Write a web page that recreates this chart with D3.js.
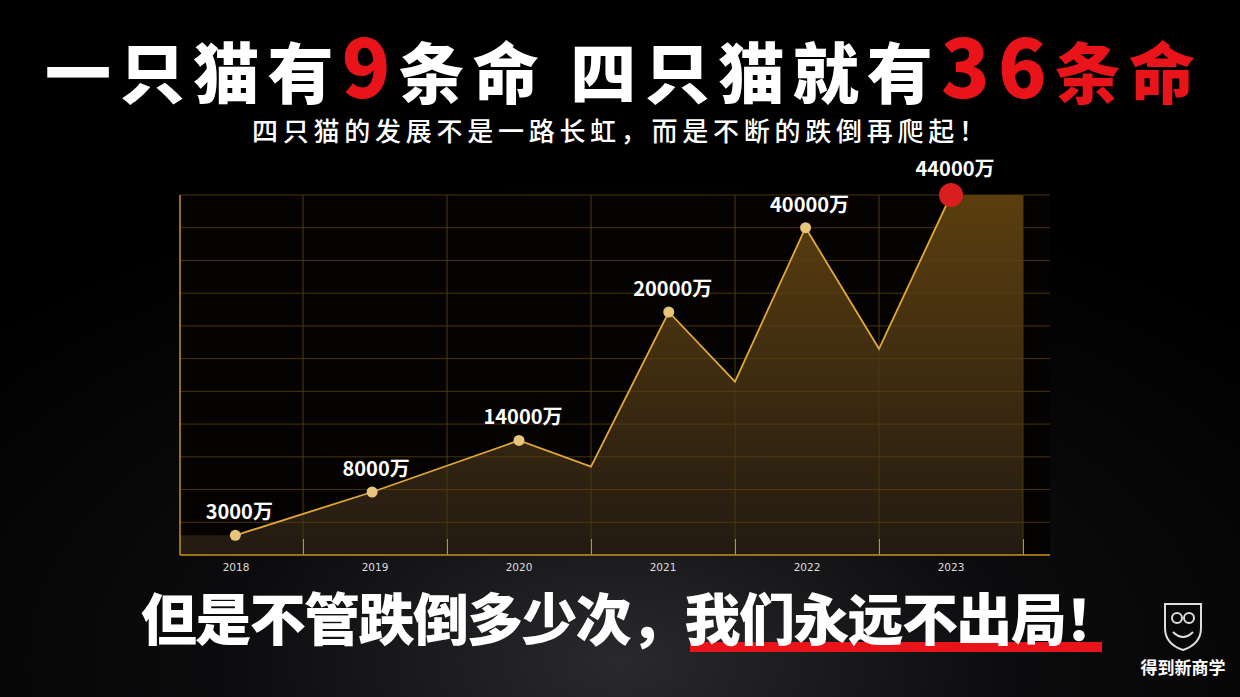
<!DOCTYPE html>
<html><head><meta charset="utf-8">
<script src="https://cdn.jsdelivr.net/npm/d3@7"></script>
<style>body{margin:0;background:#000;overflow:hidden}svg{display:block}</style>
</head><body>
<svg id="c" width="1240" height="697"></svg>
<script>
const years = ["2018","2019","2020","2021","2022","2023"];
const xPos = [0.53, 1.48, 2.5, 3.0, 3.54, 4.0, 4.49, 5.0, 5.5];
const yVal = [2400, 7700, 14000, 10800, 29700, 21200, 40000, 25200, 44000];
const labels = ["3000万","8000万","14000万",null,"20000万",null,"40000万",null,"44000万"];
const yTicks = d3.range(0, 44001, 4000);

const svg = d3.select("#c");
const defs = svg.append("defs");
const bg = defs.append("radialGradient").attr("id","bg").attr("cx","50%").attr("cy","95%").attr("r","70%");
bg.append("stop").attr("offset","0").attr("stop-color","#2a2a2e");
bg.append("stop").attr("offset","0.45").attr("stop-color","#0c0c0e");
bg.append("stop").attr("offset","1").attr("stop-color","#000");
svg.append("rect").attr("width",1240).attr("height",697).attr("fill","url(#bg)");

const af = defs.append("linearGradient").attr("id","af").attr("x1",0).attr("y1",0).attr("x2",0).attr("y2",1);
af.append("stop").attr("offset","0").attr("stop-color","#5a3e0e");
af.append("stop").attr("offset","1").attr("stop-color","#221a12");

const x = d3.scaleLinear().domain([0,6]).range([159,1023]);
const y = d3.scaleLinear().domain([0,44000]).range([555,195]);
const L = 180, R = 1050;

svg.append("rect").attr("x",L).attr("y",195).attr("width",R-L).attr("height",360).attr("fill","#050202");

const areaPts = xPos.map((u,i)=>[u,yVal[i]]).concat([[6,44000]]);
svg.append("path").datum([[0,2400]].concat(areaPts))
  .attr("d", d3.area().x(d=>Math.max(L,x(d[0]))).y0(y(0)).y1(d=>y(d[1])))
  .attr("fill","url(#af)");

const g = svg.append("g");
g.selectAll(".h").data(yTicks.slice(1)).join("line")
  .attr("x1",L).attr("x2",R).attr("y1",d=>y(d)).attr("y2",d=>y(d))
  .attr("stroke","#5a4210").attr("stroke-width",1).attr("opacity",0.8);
g.selectAll(".v").data(d3.range(1,7)).join("line")
  .attr("x1",d=>x(d)).attr("x2",d=>x(d)).attr("y1",195).attr("y2",555)
  .attr("stroke","#4a3810").attr("stroke-width",1);

const xa = svg.append("g").attr("transform","translate(0,555)")
  .call(d3.axisBottom(x).tickValues(d3.range(1,7)).tickSize(-16).tickFormat(""));
xa.select(".domain").remove();
xa.selectAll("line").attr("stroke","#c8901e");
svg.append("line").attr("x1",L).attr("x2",R).attr("y1",555).attr("y2",555).attr("stroke","#c8901e").attr("stroke-width",1.5);
svg.append("line").attr("x1",L).attr("x2",L).attr("y1",195).attr("y2",555).attr("stroke","#c8901e").attr("stroke-width",1.5);
svg.selectAll(".yl").data(years).join("text")
  .attr("x",(d,i)=>x(i+0.5)+(i===0?5:0)).attr("y",571).attr("text-anchor","middle")
  .attr("fill","#ddd").attr("font-family","DejaVu Sans").attr("font-size",10.5).text(d=>d);

svg.append("path").datum(xPos.map((u,i)=>[u,yVal[i]]))
  .attr("d", d3.line().x(d=>x(d[0])).y(d=>y(d[1])))
  .attr("fill","none").attr("stroke","#e0a838").attr("stroke-width",1.8);

const pts = xPos.map((u,i)=>({u:u,v:yVal[i],l:labels[i],last:i===xPos.length-1})).filter(d=>d.l);
svg.selectAll(".pt").data(pts).join("circle")
  .attr("cx",d=>x(d.u)).attr("cy",d=>y(d.v)).attr("r",d=>d.last?12:5.5)
  .attr("fill",d=>d.last?"#d81e1e":"#e8c57a");
svg.selectAll(".lb").data(pts).join("text")
  .attr("x",d=>x(d.u)+4).attr("y",d=>y(d.v)-(d.last?19:16)).attr("text-anchor","middle")
  .attr("fill","#fff").attr("font-family","Noto Sans CJK SC").attr("font-weight",700).attr("font-size",20)
  .text(d=>d.l);

const t = svg.append("text").attr("x",45).attr("y",98)
  .attr("font-family","Noto Sans CJK SC").attr("font-weight",900).attr("font-size",66).attr("fill","#fff")
  .attr("textLength",1150).attr("lengthAdjust","spacing");
t.append("tspan").text("一只猫有");
t.append("tspan").attr("fill","#e8141a").attr("font-size",80).text("9");
t.append("tspan").text("条命 四只猫就有");
t.append("tspan").attr("fill","#e8141a").attr("font-size",80).text("36");
t.append("tspan").attr("fill","#e8141a").text("条命");

svg.append("text").attr("x",252).attr("y",141)
  .attr("font-family","Noto Sans CJK SC").attr("font-weight",500).attr("font-size",26).attr("fill","#fff")
  .attr("textLength",733).attr("lengthAdjust","spacing")
  .text("四只猫的发展不是一路长虹，而是不断的跌倒再爬起！");

svg.append("rect").attr("x",690).attr("y",642).attr("width",412).attr("height",10).attr("fill","#e8141a");
svg.append("text").attr("x",141).attr("y",640)
  .attr("font-family","Noto Sans CJK SC").attr("font-weight",900).attr("font-size",56).attr("fill","#fff")
  .attr("textLength",980).attr("lengthAdjust","spacing")
  .text("但是不管跌倒多少次，我们永远不出局！");

const lg = svg.append("g").attr("transform","translate(1183,626)");
lg.append("path").attr("d","M-18,-22 L18,-22 L18,2 Q18,18 0,24 Q-18,18 -18,2 Z")
  .attr("fill","none").attr("stroke","#ddd").attr("stroke-width",2);
lg.append("circle").attr("cx",-6).attr("cy",-8).attr("r",5).attr("fill","none").attr("stroke","#ddd").attr("stroke-width",2);
lg.append("circle").attr("cx",6).attr("cy",-8).attr("r",5).attr("fill","none").attr("stroke","#ddd").attr("stroke-width",2);
lg.append("path").attr("d","M-10,6 Q0,16 10,6").attr("fill","none").attr("stroke","#ddd").attr("stroke-width",2);
svg.append("text").attr("x",1183).attr("y",674).attr("text-anchor","middle")
  .attr("font-family","Noto Sans CJK SC").attr("font-weight",700).attr("font-size",17).attr("fill","#fff")
  .text("得到新商学");
</script></body></html>
